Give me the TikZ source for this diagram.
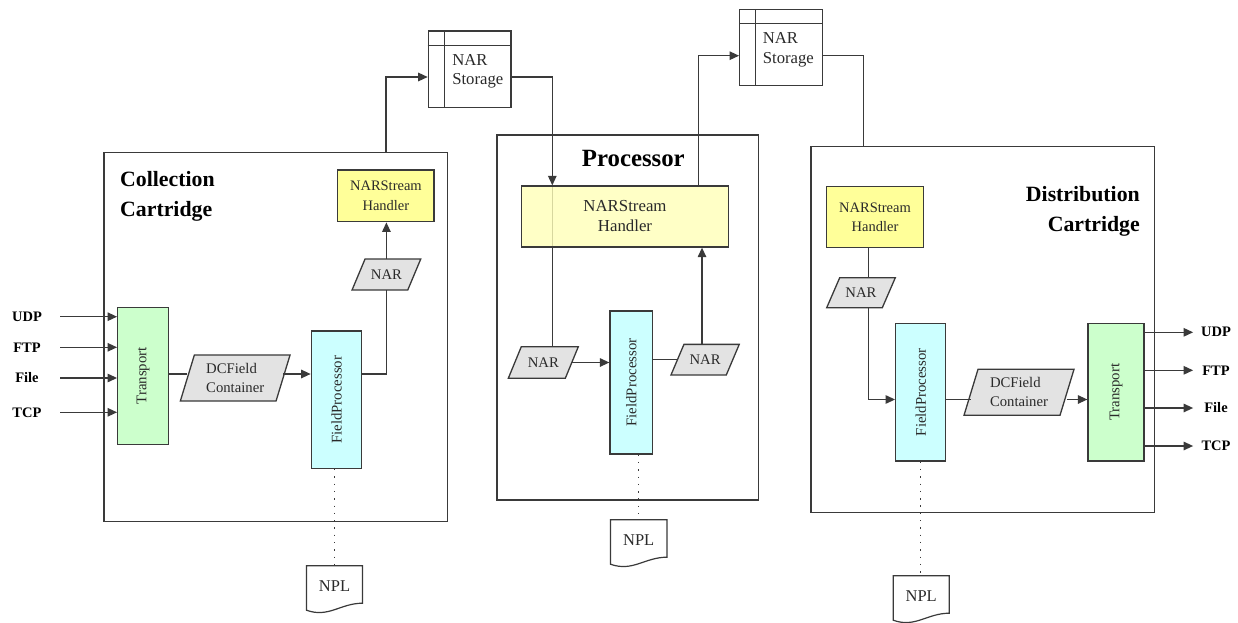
\documentclass[tikz,border=0pt]{standalone}
\usepackage{fontspec}
\setmainfont{Liberation Serif}
\usepackage{graphicx}
\usetikzlibrary{arrows.meta,calc}
\definecolor{lc}{HTML}{3A3A3A}
\definecolor{txt}{HTML}{2A2A2A}
\definecolor{grn}{HTML}{CCFFCC}
\definecolor{cyn}{HTML}{CCFFFF}
\definecolor{ylw}{HTML}{FFFF99}
\definecolor{pyl}{HTML}{FFFFB8}
\definecolor{gry}{HTML}{E3E3E3}
\pgfdeclarelayer{bg}
\pgfsetlayers{bg,main}
\newcommand\fsz[2]{\fontsize{#1}{#2}\selectfont}
\newcommand\para[7]{%
  \path[draw=lc, line width=1.3pt, fill=gry]
    ({#2-#4/2-#6/2},{#3+#5/2}) -- ({#2-#4/2+#6/2},{#3-#5/2}) --
    ({#2+#4/2+#6/2},{#3-#5/2}) -- ({#2+#4/2-#6/2},{#3+#5/2}) -- cycle;
  \node[para, minimum width=#4pt, minimum height=#5pt] (#1) at (#2,#3) {#7};}
\newcommand\nplshape[1]{%
  \draw[draw=lc, line width=1.2pt] (#1.north west) -- (#1.north east) --
    ([yshift=3]#1.south east) .. controls ([xshift=-22,yshift=3]#1.south east)
    and ([xshift=22,yshift=-12]#1.south west) .. ([yshift=-4]#1.south west) -- cycle;}
\newcommand\storelines[3]{%
  \draw[draw=lc, line width=1.2pt] ([xshift=#2]#1.north west) -- ([xshift=#2]#1.south west);
  \draw[draw=lc, line width=1.2pt] ([yshift=-#3]#1.north west) -- ([yshift=-#3]#1.north east);}
\begin{document}
\begin{tikzpicture}[x=1pt,y=-1pt,
  ln/.style={draw=lc, line width=1.3pt},
  arr/.style={ln, -{Triangle[length=9.5pt,width=8.5pt]}},
  dots/.style={draw=lc, line width=1.4pt, dash pattern=on 1.4pt off 5.9pt},
  frame/.style={draw=lc, line width=1.4pt, inner sep=0pt},
  blk/.style={draw=lc, line width=1.3pt, inner sep=0pt, text=txt},
  hand/.style={blk, fill=ylw, align=center, font=\fsz{14.5}{19.3}},
  fp/.style={blk, fill=cyn, font=\fsz{14.8}{18}},
  tr/.style={blk, fill=grn, font=\fsz{14.8}{18}},
  para/.style={inner sep=0pt, text=txt, align=left, font=\fsz{14.7}{19.3}},
  npl/.style={inner sep=0pt, text=txt, font=\fsz{16.5}{20}},
  sto/.style={draw=lc, line width=1.3pt, inner sep=0pt},
  stotext/.style={anchor=west, align=left, inner sep=0pt, text=txt, font=\fsz{16.7}{19.5}},
  io/.style={inner sep=0pt, font=\bfseries\fsz{14.5}{18}, text=black},
  title/.style={inner sep=0pt, font=\bfseries\fsz{21.8}{30}, text=black},
]
\begin{pgfonlayer}{bg}
\fill[white] (0,0) rectangle (1238,623);
\end{pgfonlayer}
\useasboundingbox (0,0) rectangle (1238,623);

% ---------------- Collection Cartridge ----------------
\node[frame, minimum width=343.5pt, minimum height=369.5pt] (cbox) at (275.85,337) {};
\node[title, anchor=west, align=left] (ctitle) at (120,196) {Collection\\Cartridge};
\node[tr, minimum width=50.6pt, minimum height=137pt] (ctrans) at (143,375.8) {\rotatebox{90}{Transport}};
\para{cdcf}{235.2}{378}{95.7}{46}{14}{DCField\\Container}
\node[fp, minimum width=50.4pt, minimum height=137.3pt] (cfp) at (336.5,399.7) {\rotatebox{90}{FieldProcessor}};
\para{cnar}{386.4}{274.5}{55.7}{31}{13}{NAR}
\node[hand, minimum width=96.3pt, minimum height=51.7pt] (chand) at (385.9,195.9) {NARStream\\Handler};
\node[npl, minimum width=55.6pt, minimum height=40pt] (cnpl) at (334.5,586) {NPL};
\nplshape{cnpl}

\foreach \n/\t/\y in {cudp/UDP/316.7, cftp/FTP/347.3, cfile/File/378, ctcp/TCP/412.3} {
  \node[io, minimum width=66pt] (\n) at (27,\y) {\t};
  \draw[arr] (\n) -- (\n -| ctrans.west);
}
\coordinate (cy) at (0,374);
\draw[ln] (ctrans.east |- cy) -- (cdcf.west |- cy);
\draw[arr] (cdcf.east |- cy) -- (cfp.west |- cy);
\draw[ln] (cfp.east |- cy) -| (cnar.south);
\draw[arr] (cnar.north) -- (cnar.north |- chand.south);
\draw[dots] (cnpl.north |- cfp.south) -- (cnpl.north);

% ---------------- NAR Storage 1 ----------------
\node[sto, minimum width=82.7pt, minimum height=76.7pt] (sto1) at (469.7,69.4) {};
\storelines{sto1}{16.4}{15.3}
\node[stotext] (sto1t) at ([xshift=24.4,yshift=-2]sto1.west) {NAR\\Storage};
\draw[arr] (chand.north |- cbox.north) |- ([yshift=-7.6]sto1.west);

% ---------------- Processor ----------------
\node[frame, minimum width=261.5pt, minimum height=365pt] (pbox) at (627.75,317.5) {};
\node[title, font=\bfseries\fsz{24.8}{30}] (ptitle) at (633.3,159) {Processor};
\node[blk, fill=pyl, fill opacity=0.8, text opacity=1, align=center, font=\fsz{16.8}{20},
      minimum width=206.6pt, minimum height=61pt] (phand) at (625,216.5) {NARStream\\Handler};
\para{pnar1}{543.3}{362.5}{57}{31.6}{13}{NAR}
\node[fp, minimum width=42.7pt, minimum height=143pt] (pfp) at (631.35,382.5) {\rotatebox{90}{FieldProcessor}};
\para{pnar2}{705.1}{359.7}{55.3}{30.7}{13}{NAR}
\node[npl, minimum width=56pt, minimum height=40pt] (pnpl) at (638.7,540) {NPL};
\nplshape{pnpl}

\coordinate (pin) at ([xshift=-72.7]phand.north);
\coordinate (pout) at ([xshift=77]phand.south);
\coordinate (pup) at ([xshift=73.3]phand.north);
\draw[arr] ([yshift=-7.6]sto1.east) -| (pin);
\begin{pgfonlayer}{bg}
\draw[ln] (pin |- pnar1.north) -- (pin);
\end{pgfonlayer}
\draw[arr] (pnar1.east) -- (pnar1.east -| pfp.west);
\draw[ln] (pfp.east |- pnar2.west) -- (pnar2.west);
\draw[arr] (pout |- pnar2.north) -- (pout);
\draw[dots] (pnpl.north |- pfp.south) -- (pnpl.north);

% ---------------- NAR Storage 2 ----------------
\node[sto, minimum width=82.6pt, minimum height=76pt] (sto2) at (781,47.7) {};
\storelines{sto2}{16.3}{14.6}
\node[stotext] (sto2t) at ([xshift=23.6,yshift=-2]sto2.west) {NAR\\Storage};
\draw[arr] (pup) |- ([yshift=-8]sto2.west);

% ---------------- Distribution Cartridge ----------------
\node[frame, minimum width=343.3pt, minimum height=365.6pt] (dbox) at (982.65,329.5) {};
\node[title, anchor=east, align=right] (dtitle) at (1140,211) {Distribution\\Cartridge};
\node[hand, minimum width=96.6pt, minimum height=60.6pt] (dhand) at (875,217) {NARStream\\Handler};
\para{dnar}{861}{292.7}{55.6}{30}{13}{NAR}
\node[fp, minimum width=50pt, minimum height=137.7pt] (dfp) at (920.7,392.15) {\rotatebox{90}{FieldProcessor}};
\para{ddcf}{1019}{392.3}{96}{46}{14}{DCField\\Container}
\node[tr, minimum width=56pt, minimum height=137.3pt] (dtrans) at (1116,392.35) {\rotatebox{90}{Transport}};
\node[npl, minimum width=55.7pt, minimum height=40pt] (dnpl) at (921.2,596) {NPL};
\nplshape{dnpl}

\draw[ln] ([yshift=-8]sto2.east) -| ([xshift=-119.4]dbox.north);
\coordinate (dl) at ([xshift=-6.7]dhand.south);
\draw[ln] (dl) -- (dl |- dnar.north);
\coordinate (dy) at (0,399.5);
\draw[arr] (dl |- dnar.south) |- (dfp.west |- dy);
\draw[ln] (dfp.east |- dy) -- (ddcf.west |- dy);
\draw[arr] (ddcf.east |- dy) -- (dtrans.west |- dy);
\draw[dots] (dfp.south) -- (dfp.south |- dnpl.north);

\foreach \n/\t/\y in {dudp/UDP/332.3, dftp/FTP/370.3, dfile/File/408, dtcp/TCP/446} {
  \node[io, minimum width=45.4pt] (\n) at (1216,\y) {\t};
  \draw[arr] (dtrans.east |- \n) -- (\n);
}
\end{tikzpicture}
\end{document}
